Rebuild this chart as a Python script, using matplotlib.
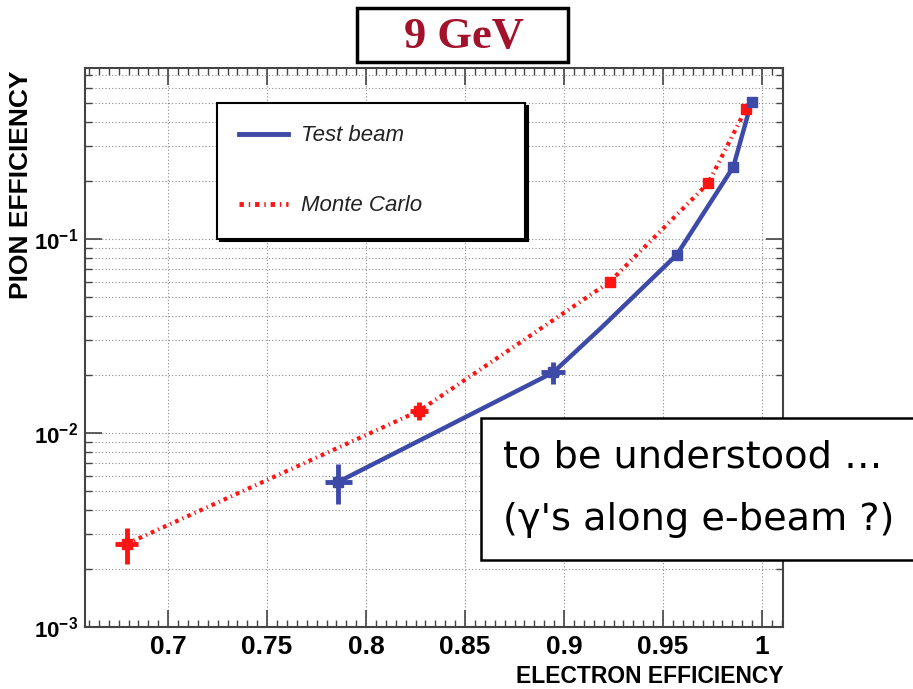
import matplotlib
matplotlib.use('Agg')
import matplotlib.pyplot as plt
import numpy as np
from matplotlib.patches import Rectangle
from matplotlib.lines import Line2D
from matplotlib.ticker import FixedLocator, MultipleLocator, NullFormatter

# --- data ---
# Test beam (blue)
tb_e_eff = [0.786, 0.8945, 0.919, 0.957, 0.9855, 0.9947]
tb_pi_eff = [0.0056, 0.0205, 0.035, 0.083, 0.235, 0.51]
tb_xerr = [0.0067, 0.006, 0.0, 0.002, 0.002, 0.002]
tb_yerr = [0.0013, 0.0027, 0.0, 0.003, 0.008, 0.015]
tb_marked = [0, 1, 3, 4, 5]   # points drawn with a marker

# Monte Carlo (red)
mc_e_eff = [0.679, 0.8268, 0.9232, 0.9728, 0.9919]
mc_pi_eff = [0.00268, 0.0130, 0.0602, 0.1935, 0.467]
mc_xerr = [0.006, 0.0045, 0.002, 0.002, 0.002]
mc_yerr = [0.00056, 0.0014, 0.002, 0.006, 0.014]

x_ticks = [0.7, 0.75, 0.8, 0.85, 0.9, 0.95, 1.0]
x_ticklabels = ['0.7', '0.75', '0.8', '0.85', '0.9', '0.95', '1']
y_ticks = [1e-3, 1e-2, 1e-1]
y_ticklabels = [r'$\mathbf{10^{-3}}$', r'$\mathbf{10^{-2}}$', r'$\mathbf{10^{-1}}$']

BLUE = '#3d4aa8'
RED = '#ff1414'
SANS = ['Liberation Sans', 'DejaVu Sans']

plt.rcParams['mathtext.fontset'] = 'custom'
plt.rcParams['mathtext.bf'] = 'Liberation Sans:bold'
plt.rcParams['mathtext.rm'] = 'Liberation Sans'

W, H = 913, 689
fig = plt.figure(figsize=(W / 100, H / 100), dpi=100)
left, right, top, bottom = 85, 783, 68, 627
ax = fig.add_axes([left / W, 1 - bottom / H, (right - left) / W, (bottom - top) / H])

# curves
mc_style = (0, (0.9, 1.0, 0.3, 1.0))
ax.plot(mc_e_eff, mc_pi_eff, color=RED, lw=3, linestyle=mc_style, zorder=3)
ax.errorbar(mc_e_eff, mc_pi_eff, xerr=mc_xerr, yerr=mc_yerr, fmt='s', ms=7,
            color=RED, elinewidth=3.5, capsize=0, zorder=4)

ax.plot(tb_e_eff, tb_pi_eff, color=BLUE, lw=3.2, zorder=3)
idx = tb_marked
ax.errorbar([tb_e_eff[i] for i in idx], [tb_pi_eff[i] for i in idx],
            xerr=[tb_xerr[i] for i in idx], yerr=[tb_yerr[i] for i in idx],
            fmt='s', ms=7, color=BLUE, elinewidth=3.5, capsize=0, zorder=4)

# axes
ax.set_yscale('log')
ax.set_xlim(0.658, 1.0106)
ax.set_ylim(1e-3, 0.76)

ax.xaxis.set_major_locator(FixedLocator(x_ticks))
ax.set_xticklabels(x_ticklabels)
ax.xaxis.set_minor_locator(MultipleLocator(0.005))
ax.yaxis.set_major_locator(FixedLocator(y_ticks))
ax.set_yticklabels(y_ticklabels)
ax.yaxis.set_minor_locator(FixedLocator(
    [m * d for d in (1e-3, 1e-2, 1e-1) for m in range(2, 10)]))
ax.yaxis.set_minor_formatter(NullFormatter())

ax.tick_params(which='both', direction='in', top=True, right=True, color='#444')
ax.tick_params(which='major', length=12, width=1.2)
ax.tick_params(which='minor', length=5, width=1.0)
ax.tick_params(axis='x', which='major', pad=6, labelsize=19)
ax.tick_params(axis='y', which='major', pad=5, labelsize=16)
for lab in ax.get_xticklabels():
    lab.set_family(SANS)
    lab.set_fontweight('bold')

grid_kw = dict(color='#8a8a8a', lw=0.8, linestyle=(0, (1, 2)))
ax.grid(True, which='major', axis='x', **grid_kw)
ax.grid(True, which='both', axis='y', **grid_kw)
ax.set_axisbelow(True)

for sp in ax.spines.values():
    sp.set_color('#444')
    sp.set_linewidth(1.5)

ax.set_xlabel('ELECTRON EFFICIENCY', loc='right', fontsize=16.5,
              fontweight='bold', family=SANS)
ax.xaxis.set_label_coords(1.0, -0.068)
ax.set_ylabel('PION EFFICIENCY', loc='top', fontsize=19,
              fontweight='bold', family=SANS)
ax.yaxis.set_label_coords(-0.074, 0.995)

# legend
handles = [Line2D([], [], color=BLUE, lw=3.5),
           Line2D([], [], color=RED, lw=3.5, linestyle=mc_style)]
leg = ax.legend(handles, ['Test beam', 'Monte Carlo'], loc='upper left',
                bbox_to_anchor=(0.189, 0.937, 0.441, 0.0), mode='expand',
                borderaxespad=0.0,
                prop=dict(family=SANS, style='italic', size=16),
                handlelength=2.2, handletextpad=0.6, labelspacing=2.2,
                borderpad=1.0, fancybox=False, framealpha=1,
                shadow=dict(color='black', alpha=1.0))
leg.get_frame().set_edgecolor('black')
leg.get_frame().set_linewidth(1.5)
for t in leg.get_texts():
    t.set_color('#222')

# title box
fig.add_artist(Rectangle((357 / W, 1 - 62 / H), 211 / W, 54 / H, transform=fig.transFigure,
                         facecolor='white', edgecolor='black', lw=2.5, zorder=5))
fig.text(464 / W, 1 - 37 / H, '9 GeV', ha='center', va='center', fontsize=32,
         fontweight='bold', family=['Liberation Serif', 'DejaVu Serif'],
         color='#a3122b', zorder=6)

# note box
fig.add_artist(Rectangle((481 / W, 1 - 560 / H), 440 / W, 142 / H, transform=fig.transFigure,
                         facecolor='white', edgecolor='black', lw=1.8, zorder=5))
fig.text(503 / W, 1 - 458 / H, 'to be understood …', ha='left', va='center',
         fontsize=27.5, family='DejaVu Sans', color='black', zorder=6)
fig.text(503 / W, 1 - 520 / H, '(γ\'s along e-beam ?)', ha='left', va='center',
         fontsize=27.5, family='DejaVu Sans', color='black', zorder=6)

fig.savefig('out.png', dpi=100)
